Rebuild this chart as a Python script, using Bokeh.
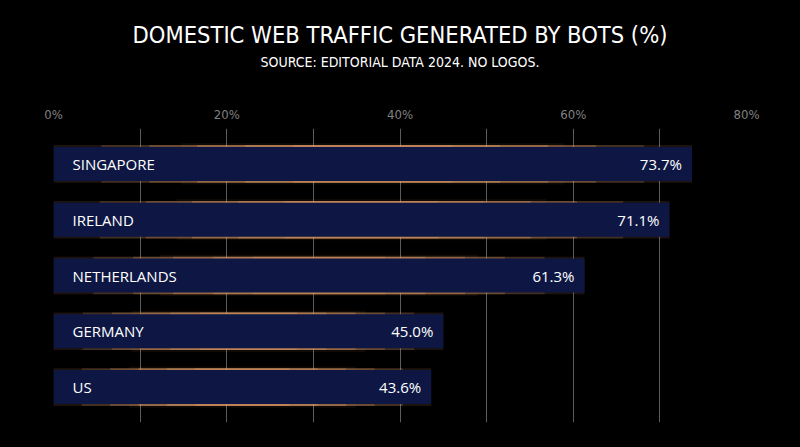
from bokeh.plotting import figure
from bokeh.models import (ColumnDataSource, FactorRange, FixedTicker, SingleIntervalTicker,
                          PrintfTickFormatter, Title, Range1d)
from bokeh.embed import file_html
from bokeh.resources import INLINE
from bokeh.core.properties import value

# ---- data ----
countries = ["SINGAPORE", "IRELAND", "NETHERLANDS", "GERMANY", "US"]
shares = [73.7, 71.1, 61.3, 45.0, 43.6]
share_labels = ["73.7%", "71.1%", "61.3%", "45.0%", "43.6%"]
tick_values = [0, 20, 40, 60, 80]
title_text = "DOMESTIC WEB TRAFFIC GENERATED BY BOTS (%)"
subtitle_text = "SOURCE: EDITORIAL DATA 2024. NO LOGOS."

NARROW = "DejaVu Sans Condensed"
LABEL_FONT = "Open Sans"

W, H = 800, 447
LEFT, RIGHT, TOP, BOTTOM = 53, 54, 128, 25

src = ColumnDataSource(dict(country=countries, share=shares, label=share_labels,
                            zero=[0] * len(shares)))

p = figure(width=W, height=H, title=None,
           x_range=Range1d(0, 80),
           y_range=FactorRange(factors=list(reversed(countries)), range_padding=0.054),
           x_axis_location="above",
           output_backend="svg", toolbar_location=None,
           min_border_left=LEFT, min_border_right=RIGHT,
           min_border_bottom=BOTTOM, min_border_top=TOP)

p.background_fill_color = "black"
p.border_fill_color = "black"
p.outline_line_color = None

# axes (subtitle is carried by the top axis label)
p.yaxis.visible = False
p.xaxis.ticker = FixedTicker(ticks=tick_values)
p.xaxis.formatter = PrintfTickFormatter(format="%d%%")
p.xaxis.axis_line_color = None
p.xaxis.major_tick_line_color = None
p.xaxis.minor_tick_line_color = None
p.xaxis.major_label_text_color = "#808080"
p.xaxis.major_label_text_font = NARROW
p.xaxis.major_label_text_font_size = "13px"
p.xaxis.major_label_standoff = 1
p.xaxis.axis_label = subtitle_text
p.xaxis.axis_label_text_color = "white"
p.xaxis.axis_label_text_font = NARROW
p.xaxis.axis_label_text_font_size = "14px"
p.xaxis.axis_label_text_font_style = "normal"
p.xaxis.axis_label_standoff = 34

# grid
p.xgrid.ticker = SingleIntervalTicker(interval=10, num_minor_ticks=0)
p.xgrid.grid_line_color = "#5c5c5c"
p.xgrid.grid_line_width = 1
p.ygrid.visible = False

# title
p.add_layout(Title(text=title_text, align="center", text_color="white",
                   text_font=NARROW, text_font_size="23.5px", text_font_style="normal",
                   standoff=4), "above")

# glow (orange rim, strongest at the bar centre, fading toward the ends)
p.hbar(y=countries, left=[s * 0.2 for s in shares], right=[s * 0.8 for s in shares],
       height=0.74, fill_color="#d4904f", fill_alpha=0.07, line_color=None)
for frac, alpha in [(1.0, 0.12), (0.85, 0.2), (0.7, 0.25), (0.55, 0.3), (0.4, 0.3), (0.25, 0.3)]:
    lefts = [s * (1 - frac) / 2 for s in shares]
    rights = [s * (1 + frac) / 2 for s in shares]
    p.hbar(y=countries, left=lefts, right=rights, height=0.675,
           fill_color="#e3a06a", fill_alpha=alpha, line_color=None)

# bars
p.hbar(y="country", left="zero", right="share", height=0.61, source=src,
       fill_color="#0e1744", line_color=None)

# labels
p.text(x="zero", y="country", text="country", source=src, x_offset=19,
       text_align="left", text_baseline="middle", text_color="white",
       text_font=value(LABEL_FONT), text_font_size="15px")
p.text(x="share", y="country", text="label", source=src, x_offset=-10,
       text_align="right", text_baseline="middle", text_color="white",
       text_font=value(LABEL_FONT), text_font_size="15px")

html = file_html(p, INLINE)
html = html.replace("<head>", "<head><style>html,body{background:#000;}</style>", 1)
open("out.html", "w").write(html)
